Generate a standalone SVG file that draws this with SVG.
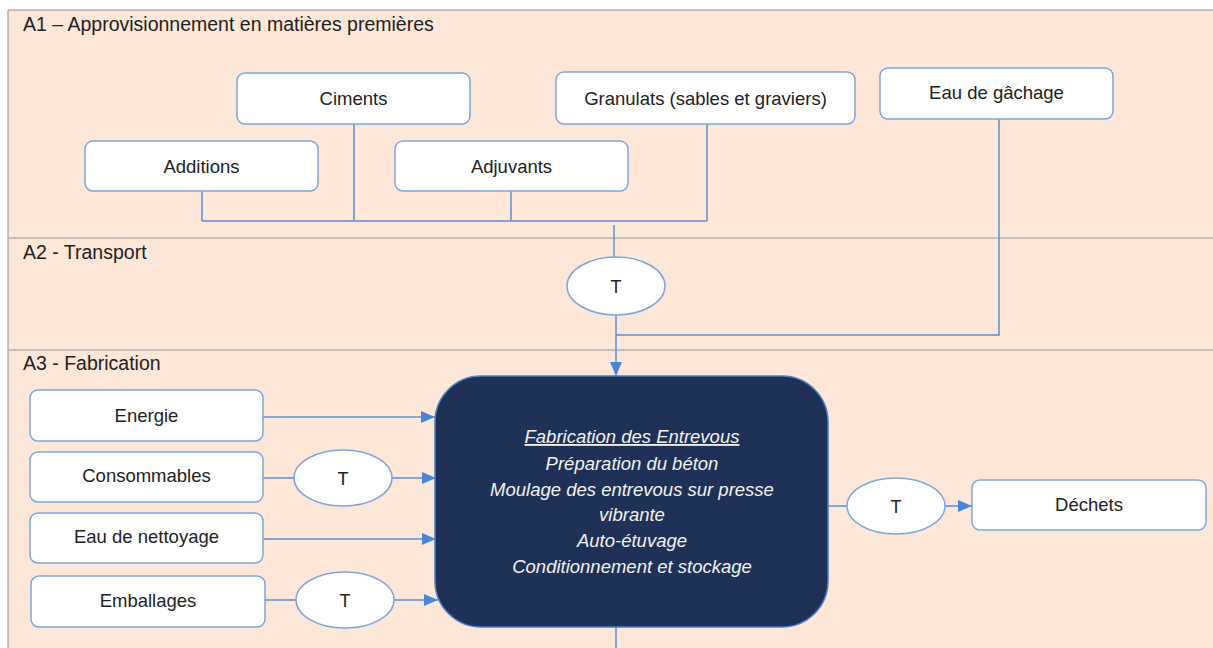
<svg xmlns="http://www.w3.org/2000/svg" width="1213" height="648" viewBox="0 0 1213 648">
<style>
.lbl{font-family:"Liberation Sans",Arial,sans-serif;font-size:19.5px;fill:#222}
.nt{font-family:"Liberation Sans",Arial,sans-serif;font-size:18.5px;fill:#222;text-anchor:middle}
.tt{font-family:"Liberation Sans",Arial,sans-serif;font-size:18px;fill:#222;text-anchor:middle}
.box{fill:#fff;stroke:#7ea6dc;stroke-width:1.5}
.ell{fill:#fff;stroke:#7ea6dc;stroke-width:1.5}
.sep{stroke:#b3b3b3;stroke-width:1.5;fill:none}
.c{stroke:#5b8fd6;stroke-width:1.5;fill:none}
.ca{stroke:#5b8fd6;stroke-width:1.5;fill:none;marker-end:url(#ah)}
.mt{font-family:"Liberation Sans",Arial,sans-serif;font-size:18.5px;font-style:italic;fill:#f2f2f2;text-anchor:middle}
</style>
<defs>
<marker id="ah" markerWidth="14" markerHeight="12" refX="14" refY="6" orient="auto" markerUnits="userSpaceOnUse">
<path d="M0,0 L14,6 L0,12 Z" fill="#4a86d4"/>
</marker>
</defs>
<rect x="0" y="0" width="1213" height="648" fill="#fff"/>
<rect x="8" y="10" width="1205" height="638" fill="#fce7d9"/>
<path class="sep" d="M8,10 H1213 M8,10 V648 M8,238 H1213 M8,350 H1213"/>
<text class="lbl" x="23" y="31">A1 – Approvisionnement en matières premières</text>
<text class="lbl" x="23" y="259">A2 - Transport</text>
<text class="lbl" x="23" y="370">A3 - Fabrication</text>

<g id="connectors">
<path class="c" d="M202,191 V221 M354,124 V221 M511,191 V221 M707,124 V221 M202,221 H707"/>
<path class="c" d="M614,225 V257"/>
<path class="ca" d="M616,314 V376"/>
<path class="c" d="M999,119 V335 H616"/>
<path class="ca" d="M263,417 H435"/>
<path class="c" d="M263,478 H295"/>
<path class="ca" d="M392,478 H436"/>
<path class="ca" d="M263,539 H436"/>
<path class="c" d="M265,600 H296"/>
<path class="ca" d="M394,600 H438"/>
<path class="c" d="M828,506 H847"/>
<path class="ca" d="M945,506 H972"/>
<path class="c" d="M616,627 V648"/>
</g>

<g id="ciments"><rect class="box" x="237" y="73" width="233" height="51" rx="8"/><text class="nt" x="353.5" y="105">Ciments</text></g>
<g id="additions"><rect class="box" x="85" y="141" width="233" height="50" rx="8"/><text class="nt" x="201.5" y="173">Additions</text></g>
<g id="adjuvants"><rect class="box" x="395" y="141" width="233" height="50" rx="8"/><text class="nt" x="511.5" y="173">Adjuvants</text></g>
<g id="granulats"><rect class="box" x="556" y="72" width="299" height="52" rx="8"/><text class="nt" x="705.5" y="105">Granulats (sables et graviers)</text></g>
<g id="eau-gachage"><rect class="box" x="880" y="68" width="233" height="51" rx="8"/><text class="nt" x="996.5" y="99">Eau de gâchage</text></g>

<g id="t-transport"><ellipse class="ell" cx="616" cy="286" rx="49" ry="29"/><text class="tt" x="616" y="293">T</text></g>

<g id="fabrication">
<rect x="435" y="376" width="393" height="251" rx="46" fill="#1f3157" stroke="#4a7fc0" stroke-width="1.5"/>
<text class="mt" x="632" y="443" text-decoration="underline">Fabrication des Entrevous</text>
<text class="mt" x="632" y="470">Préparation du béton</text>
<text class="mt" x="632" y="496">Moulage des entrevous sur presse</text>
<text class="mt" x="632" y="521">vibrante</text>
<text class="mt" x="632" y="547">Auto-étuvage</text>
<text class="mt" x="632" y="573">Conditionnement et stockage</text>
</g>

<g id="energie"><rect class="box" x="30" y="390" width="233" height="51" rx="8"/><text class="nt" x="146.5" y="422">Energie</text></g>
<g id="consommables"><rect class="box" x="30" y="452" width="233" height="50" rx="8"/><text class="nt" x="146.5" y="482">Consommables</text></g>
<g id="eau-nettoyage"><rect class="box" x="30" y="513" width="233" height="50" rx="8"/><text class="nt" x="146.5" y="543">Eau de nettoyage</text></g>
<g id="emballages"><rect class="box" x="31" y="576" width="234" height="51" rx="8"/><text class="nt" x="148" y="607">Emballages</text></g>

<g id="t-consommables"><ellipse class="ell" cx="343" cy="478" rx="49" ry="28"/><text class="tt" x="343" y="485">T</text></g>
<g id="t-emballages"><ellipse class="ell" cx="345" cy="600" rx="49" ry="28"/><text class="tt" x="345" y="607">T</text></g>
<g id="t-dechets"><ellipse class="ell" cx="896" cy="506" rx="49" ry="28"/><text class="tt" x="896" y="513">T</text></g>
<g id="dechets"><rect class="box" x="972" y="480" width="234" height="50" rx="8"/><text class="nt" x="1089" y="511">Déchets</text></g>
</svg>
